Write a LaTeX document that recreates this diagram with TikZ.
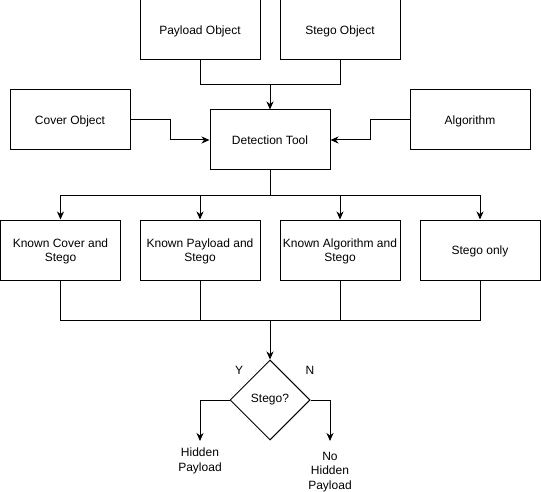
\documentclass[tikz,border=0pt]{standalone}
\usepackage{fontspec}
\setmainfont{Liberation Sans}
\usetikzlibrary{arrows.meta,shapes.geometric}
\begin{document}
\begin{tikzpicture}[x=1pt,y=-1pt,
  every node/.style={font=\fontsize{12}{14.5}\selectfont},
  box/.style={draw,line width=1pt,minimum width=120pt,minimum height=60pt,inner sep=1pt,align=center,text depth=0pt},
  dec/.style={draw,line width=1pt,diamond,aspect=1,minimum width=80pt,minimum height=80pt,inner sep=0pt},
  lbl/.style={inner sep=0pt,align=center},
  link/.style={line width=1pt},
  arr/.style={line width=1pt,-{Stealth[length=8pt,width=7pt,inset=2.5pt]}}]
\useasboundingbox (0,0) rectangle (541,492);
\node[box] (po) at (200,30) {Payload Object};
\node[box] (so) at (340,30) {Stego Object};
\node[box] (co) at (70,120) {Cover Object};
\node[box] (al) at (470,120) {Algorithm};
\node[box] (dt) at (270,140) {Detection Tool};
\node[box] (k1) at (60.5,250) {Known Cover and\\Stego};
\node[box] (k2) at (200,250) {Known Payload and\\Stego};
\node[box] (k3) at (340,250) {Known Algorithm and\\Stego};
\node[box] (k4) at (480,250) {Stego only};
\node[dec] (st) at (270,400) {Stego?};
\node[lbl] (y) at (239,370) {Y};
\node[lbl] (n) at (310,370) {N};
\node[lbl] (hp) at (200,461) {Hidden\\Payload};
\node[lbl] (nhp) at (330,472) {No\\Hidden\\Payload};
\coordinate (m1) at (270,85);
\coordinate (m2) at (270,195);
\coordinate (m3) at (270,320);
\coordinate (hpt) at (200,441);
\coordinate (nhpt) at (330,441);
\draw[link] (po.south) |- (m1);
\draw[link] (so.south) |- (m1);
\draw[arr] (m1) -- (dt.north);
\draw[arr] (co.east) -- (170,120) |- (dt.west);
\draw[arr] (al.west) -- (370,120) |- (dt.east);
\draw[link] (dt.south) -- (m2);
\foreach \k in {k1,k2,k3,k4} {
  \draw[arr] (m2) -| (\k.north);
  \draw[link] (\k.south) |- (m3);
}
\draw[arr] (m3) -- (st.north);
\draw[arr] (st.west) -| (hpt);
\draw[arr] (st.east) -| (nhpt);
\end{tikzpicture}
\end{document}
